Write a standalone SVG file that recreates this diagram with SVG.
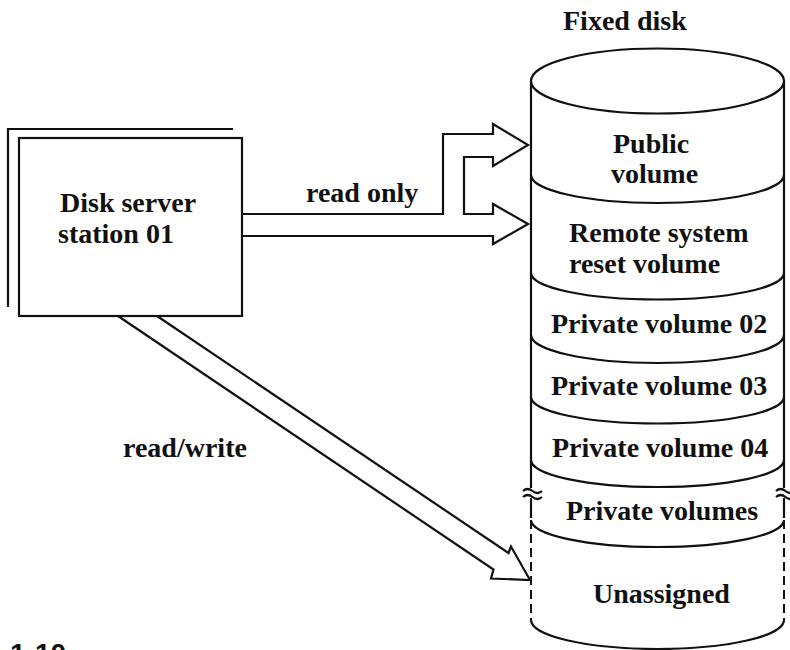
<svg xmlns="http://www.w3.org/2000/svg" width="790" height="650" viewBox="0 0 790 650">
<style>
.t{font-family:"Liberation Serif","Times New Roman",serif;font-weight:bold;font-size:28px;fill:#111}
.ln{fill:none;stroke:#111;stroke-width:2.2;stroke-linejoin:miter}
.ar{fill:#fff;stroke:#111;stroke-width:2.2;stroke-linejoin:miter}
.dash{fill:none;stroke:#111;stroke-width:2;stroke-dasharray:9 5}
</style>
<rect width="790" height="650" fill="#fff"/>
<g id="connectors">
<path class="ar" d="M242,214 H443 V134 H493 V124 L528,145 L493,166 V157 H464 V214 H493 V204 L528,224 L493,244 V236 H242"/>
<path class="ar" d="M157,316 L508.5,553 L511,546.5 L530,580 L491,578.5 L493.5,569.5 L118,316"/>
<text class="t" x="306" y="202">read only</text>
<text class="t" x="123" y="457">read/write</text>
</g>
<g id="server">
<path class="ln" d="M8,307 V129 H233"/>
<rect class="ln" x="19" y="138" width="223" height="178" fill="#fff"/>
<text class="t" x="60" y="212">Disk server</text>
<text class="t" x="58" y="243">station 01</text>
</g>
<g id="disk">
<text class="t" x="563" y="30">Fixed disk</text>
<ellipse class="ln" cx="657.5" cy="81" rx="126.5" ry="32.5"/>
<path class="ln" d="M531,81 V488 M531,498 V518 M784,81 V488 M784,498 V518"/>
<path class="dash" d="M531,520 V620 M784,520 V620"/>
<path class="ln" d="M523,491 q4.5,-4 9.5,0 t9.5,0 M523,497 q4.5,-4 9.5,0 t9.5,0 M776,491 q4.5,-4 9.5,0 t9.5,0 M776,497 q4.5,-4 9.5,0 t9.5,0"/>
<path class="ln" d="M531,175 A126.5,28 0 0 0 784,175 M531,273 A126.5,26.5 0 0 0 784,273 M531,335 A126.5,28 0 0 0 784,335 M531,397 A126.5,26.5 0 0 0 784,397 M531,460 A126.5,27 0 0 0 784,460 M531,520 A126.5,27 0 0 0 784,520 M531,620 A126.5,29 0 0 0 784,620"/>
<text class="t" x="613" y="153">Public</text>
<text class="t" x="611" y="183">volume</text>
<text class="t" x="569" y="242">Remote system</text>
<text class="t" x="569" y="273">reset volume</text>
<text class="t" x="551" y="333">Private volume 02</text>
<text class="t" x="551" y="395">Private volume 03</text>
<text class="t" x="552" y="457">Private volume 04</text>
<text class="t" x="566" y="520">Private volumes</text>
<text class="t" x="593" y="603">Unassigned</text>
</g>
<text x="10" y="663" style="font-family:'Liberation Sans',Arial,sans-serif;font-weight:bold;font-size:28px;fill:#111">1-10</text>
</svg>
